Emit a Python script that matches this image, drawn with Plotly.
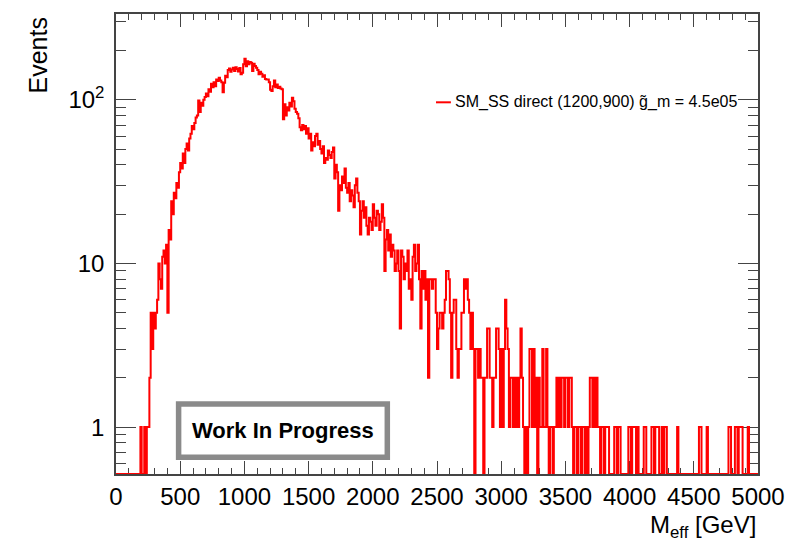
import math
import plotly.graph_objects as go

# M_eff histogram: 500 bins of 10 GeV from 0 to 5000 GeV
bin_width = 10
bin_lo = 0
counts = [
    0, 0, 0, 0, 0, 0, 0, 0, 0, 0,              # 0-90
    0, 0, 0, 0, 0, 0, 0, 0, 0, 1,              # 100-190
    0, 0, 1, 0, 1, 1, 2, 5, 3, 5,              # 200-290
    4, 5, 6, 10, 8, 7, 11, 12, 10, 13,         # 300-390
    5, 16, 14, 24, 20, 27, 25, 31, 29, 36,     # 400-490
    41, 38, 47, 41, 50, 54, 49, 58, 62, 69,    # 500-590
    66, 72, 78, 80, 99, 84, 96, 92, 100, 104,  # 600-690
    109, 105, 116, 112, 125, 119, 128, 121, 133, 130,  # 700-790
    136, 131, 128, 111, 127, 140, 137, 152, 155, 148,  # 800-890
    153, 157, 150, 158, 154, 149, 156, 143, 146, 165,  # 900-990
    178, 160, 172, 165, 170, 168, 150, 166, 161, 157,  # 1000-1090
    152, 143, 148, 144, 138, 141, 134, 133, 133, 128,  # 1100-1190
    115, 113, 121, 131, 119, 124, 118, 120, 117, 116,  # 1200-1290
    76, 94, 80, 90, 86, 96, 91, 103, 98, 88,   # 1300-1390
    84, 82, 77, 68, 65, 70, 66, 69, 62, 67,    # 1400-1490
    58, 62, 49, 55, 52, 60, 62, 53, 56, 50,    # 1500-1590
    47, 52, 41, 44, 43, 49, 46, 44, 48, 51,    # 1600-1690
    33, 40, 36, 21, 30, 28, 34, 31, 38, 29,    # 1700-1790
    27, 31, 24, 28, 26, 22, 30, 33, 27, 24,    # 1800-1890
    15, 21, 24, 19, 22, 17, 15, 19, 18, 16,    # 1900-1990
    23, 19, 17, 21, 20, 16, 18, 23, 19, 9,     # 2000-2090
    14, 16, 12, 15, 11, 13, 12, 9, 10, 12,     # 2100-2190
    9, 4, 12, 11, 8, 10, 9, 12, 7, 8,          # 2200-2290
    6, 11, 13, 9, 10, 13, 8, 4, 9, 7,          # 2300-2390
    9, 6, 8, 2, 8, 8, 7, 8, 8, 5,              # 2400-2490
    3, 4, 5, 5, 4, 5, 6, 9, 9, 8,              # 2500-2590
    5, 2, 5, 6, 6, 3, 2, 3, 3, 5,              # 2600-2690
    5, 8, 7, 8, 6, 5, 3, 5, 3, 0,              # 2700-2790
    3, 3, 2, 3, 2, 2, 0, 2, 2, 4,              # 2800-2890
    4, 2, 2, 1, 2, 2, 4, 4, 3, 1,              # 2900-2990
    3, 1, 3, 6, 4, 3, 1, 2, 2, 1,              # 3000-3090
    2, 1, 2, 1, 2, 4, 2, 1, 0, 1,              # 3100-3190
    0, 1, 3, 3, 1, 3, 1, 2, 0, 2,              # 3200-3290
    1, 1, 3, 1, 1, 3, 1, 0, 1, 1,              # 3300-3390
    0, 1, 1, 2, 1, 2, 1, 2, 2, 1,              # 3400-3490
    2, 2, 1, 2, 2, 1, 0, 1, 1, 0,              # 3500-3590
    1, 1, 0, 1, 1, 0, 1, 0, 1, 2,              # 3600-3690
    2, 1, 2, 1, 2, 1, 1, 0, 1, 1,              # 3700-3790
    0, 1, 1, 1, 0, 0, 0, 0, 1, 1,              # 3800-3890
    0, 1, 1, 0, 0, 0, 0, 0, 0, 1,              # 3900-3990
    1, 0, 1, 1, 1, 0, 1, 0, 0, 0,              # 4000-4090
    0, 1, 1, 0, 0, 0, 0, 1, 1, 0,              # 4100-4190
    1, 1, 1, 0, 0, 1, 0, 1, 1, 0,              # 4200-4290
    0, 0, 0, 0, 0, 0, 0, 1, 0, 0,              # 4300-4390
    0, 0, 0, 0, 0, 0, 0, 0, 0, 0,              # 4400-4490
    0, 0, 0, 0, 1, 1, 0, 0, 0, 0,              # 4500-4590
    1, 0, 0, 0, 0, 0, 0, 0, 0, 0,              # 4600-4690
    0, 0, 0, 0, 0, 0, 0, 1, 1, 0,              # 4700-4790
    0, 0, 1, 1, 0, 1, 1, 1, 0, 0,              # 4800-4890
    0, 0, 1, 0, 0, 0, 0, 0, 0, 0,              # 4900-4990
]

x_ticks = [0, 500, 1000, 1500, 2000, 2500, 3000, 3500, 4000, 4500, 5000]
y_ticks = [1, 10, 100]
y_tick_text = ["1", "10", "10<sup>2</sup>"]
legend_text = "SM_SS direct (1200,900) g\u0303_m = 4.5e05"
x_title = "M<sub>eff</sub> [GeV]"
y_title = "Events"
stamp_text = "Work In Progress"

# axis limits (log y)
y_min, y_max = 0.517, 334.0
x_min, x_max = 0, 5000

# step outline: bin edges with the last value repeated; empty bins sit on the frame floor
edges = [bin_lo + i * bin_width for i in range(len(counts) + 1)]
step_y = [c if c > 0 else y_min for c in counts]
step_y.append(step_y[-1])

RED = "#ff0000"
FRAME = "#444444"
FONT = "Liberation Sans"

# pixel geometry of the frame
L, R, T, B = 116, 35, 13, 70
W, H = 797, 544
PW, PH = W - L - R, H - T - B


def px(xp):
    return (xp - L) / PW


def py(yp):
    return (H - B - yp) / PH


fig = go.Figure()
fig.add_trace(go.Scatter(
    x=edges, y=step_y, mode="lines", line=dict(color=RED, width=2, shape="hv"),
    hoverinfo="skip", showlegend=False, cliponaxis=True,
))

minor_y = [v * 10 ** d for d in (-1, 0, 1, 2) for v in range(2, 10)]
minor_y = [v for v in minor_y if y_min <= v <= y_max]

fig.update_layout(
    width=W, height=H,
    margin=dict(l=L, r=R, t=T, b=B),
    paper_bgcolor="white", plot_bgcolor="white",
    font=dict(family=FONT, color="black", size=24),
    showlegend=False,
    xaxis=dict(
        range=[x_min, x_max], showgrid=False, zeroline=False,
        showline=True, linecolor=FRAME, linewidth=1.5, mirror="allticks",
        layer="below traces",
        ticks="inside", ticklen=13, tickcolor=FRAME, tickwidth=1,
        tickvals=x_ticks, ticktext=[str(v) for v in x_ticks],
        tickfont=dict(size=24), ticklabelstandoff=0,
        minor=dict(ticks="inside", ticklen=6, tickcolor=FRAME, dtick=100, showgrid=False),
    ),
    yaxis=dict(
        type="log", range=[math.log10(y_min), math.log10(y_max)],
        showgrid=False, zeroline=False,
        showline=True, linecolor=FRAME, linewidth=1.5, mirror="allticks",
        layer="below traces",
        ticks="inside", ticklen=20, tickcolor=FRAME, tickwidth=1,
        tickvals=y_ticks, ticktext=y_tick_text,
        tickfont=dict(size=24), ticklabelstandoff=5,
        minor=dict(ticks="inside", ticklen=10, tickcolor=FRAME, tickvals=minor_y, showgrid=False),
    ),
)

# axis titles (right / top aligned)
fig.add_annotation(
    x=1.0, y=py(527), xref="paper", yref="paper", xanchor="right", yanchor="middle",
    text=x_title, showarrow=False, font=dict(size=24, family=FONT),
)
fig.add_annotation(
    x=px(38), y=py(14), xref="paper", yref="paper", xanchor="center", yanchor="top",
    text=y_title, textangle=-90, showarrow=False, font=dict(size=25, family=FONT),
)

# legend entry
fig.add_shape(type="line", xref="paper", yref="paper",
              x0=px(438), x1=px(453), y0=py(101.5), y1=py(101.5),
              line=dict(color=RED, width=2))
fig.add_annotation(
    x=px(455), y=py(101.5), xref="paper", yref="paper", xanchor="left", yanchor="middle",
    text=legend_text, showarrow=False, font=dict(size=16, family=FONT),
)

# stamp box
fig.add_shape(type="rect", xref="paper", yref="paper",
              x0=px(179), x1=px(389), y0=py(457.3), y1=py(403.8),
              line=dict(color="#8a8a8a", width=5.5), fillcolor="white", layer="above")
fig.add_annotation(
    x=px(284), y=py(430.5), xref="paper", yref="paper", xanchor="center", yanchor="middle",
    text="<b>" + stamp_text + "</b>", showarrow=False,
    font=dict(size=22, family=FONT, color="black"),
)

fig.write_html("out.html")
